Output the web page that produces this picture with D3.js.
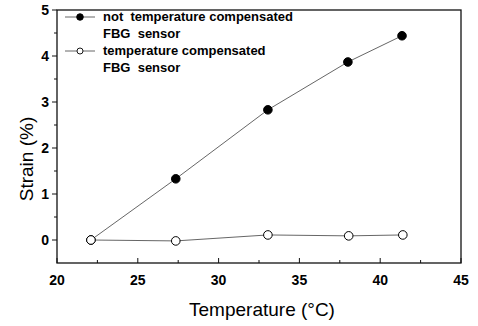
<!DOCTYPE html>
<html>
<head>
<meta charset="utf-8">
<script src="https://cdn.jsdelivr.net/npm/d3@7"></script>
<style>
  body { margin: 0; background: #fff; }
  text { font-family: "Liberation Sans", Arial, sans-serif; }
</style>
</head>
<body>
<div id="chart"></div>
<script>
"use strict";
// temperature (deg C) vs strain (%)
var tempNotComp = [22.1, 27.35, 33.05, 38.0, 41.35];
var strainNotComp = [0, 1.33, 2.83, 3.87, 4.44];
var tempComp = [22.1, 27.35, 33.05, 38.05, 41.4];
var strainComp = [0, -0.02, 0.11, 0.09, 0.11];
var xTicks = [20, 25, 30, 35, 40, 45];
var yTicks = [0, 1, 2, 3, 4, 5];
var legendLabels = [
  ["not  temperature compensated", "FBG  sensor"],
  ["temperature compensated", "FBG  sensor"]
];

var w = 478, h = 326;
var m = { left: 57, right: 17, top: 10, bottom: 63 };

var svg = d3.select("#chart").append("svg")
  .attr("width", w)
  .attr("height", h);

var x = d3.scaleLinear().domain([20, 45]).range([m.left, w - m.right]);
var y = d3.scaleLinear().domain([-0.5, 5]).range([h - m.bottom, m.top]);

var series = [
  { t: tempNotComp, s: strainNotComp, filled: true },
  { t: tempComp, s: strainComp, filled: false }
];

var line = d3.line()
  .x(function(d) { return x(d[0]); })
  .y(function(d) { return y(d[1]); });

// frame
svg.append("rect")
  .attr("x", x(20)).attr("y", y(5))
  .attr("width", x(45) - x(20)).attr("height", y(-0.5) - y(5))
  .attr("fill", "none").attr("stroke", "#111").attr("stroke-width", 1.3);

// x axis, ticks pointing up into the plot
var xAxis = svg.append("g").attr("transform", "translate(0," + y(-0.5) + ")");
xAxis.selectAll(".minor").data(d3.range(22.5, 45, 5)).enter().append("line")
  .attr("x1", function(d) { return x(d); }).attr("x2", function(d) { return x(d); })
  .attr("y1", 0).attr("y2", -3).attr("stroke", "#111");
xAxis.selectAll(".major").data(xTicks).enter().append("line")
  .attr("x1", function(d) { return x(d); }).attr("x2", function(d) { return x(d); })
  .attr("y1", 0).attr("y2", -5).attr("stroke", "#111");
xAxis.selectAll("text").data(xTicks).enter().append("text")
  .attr("x", function(d) { return x(d); })
  .attr("y", 22)
  .attr("text-anchor", "middle")
  .attr("font-size", 14).attr("font-weight", "bold")
  .text(function(d) { return d; });

// y axis, ticks pointing out
var yAxis = svg.append("g").attr("transform", "translate(" + x(20) + ",0)");
yAxis.selectAll(".minor").data(d3.range(0.5, 5, 1)).enter().append("line")
  .attr("y1", function(d) { return y(d); }).attr("y2", function(d) { return y(d); })
  .attr("x1", 0).attr("x2", -3).attr("stroke", "#111");
yAxis.selectAll(".major").data(yTicks).enter().append("line")
  .attr("y1", function(d) { return y(d); }).attr("y2", function(d) { return y(d); })
  .attr("x1", 0).attr("x2", -5).attr("stroke", "#111");
yAxis.selectAll("text").data(yTicks).enter().append("text")
  .attr("x", -8)
  .attr("y", function(d) { return y(d); })
  .attr("dy", "0.35em")
  .attr("text-anchor", "end")
  .attr("font-size", 14).attr("font-weight", "bold")
  .text(function(d) { return d; });

// axis titles
svg.append("text")
  .attr("x", 262).attr("y", 316)
  .attr("text-anchor", "middle")
  .attr("font-size", 19)
  .text("Temperature (\u00B0C)");

svg.append("text")
  .attr("transform", "translate(33,159) rotate(-90)")
  .attr("text-anchor", "middle")
  .attr("font-size", 19)
  .text("Strain (%)");

// series: lines then markers, filled first so open circle sits on top
series.forEach(function(sr) {
  var pts = sr.t.map(function(t, i) { return [t, sr.s[i]]; });
  svg.append("path")
    .datum(pts)
    .attr("d", line)
    .attr("fill", "none")
    .attr("stroke", "#555")
    .attr("stroke-width", 0.9);
  svg.append("g").selectAll("circle").data(pts).enter().append("circle")
    .attr("cx", function(d) { return x(d[0]); })
    .attr("cy", function(d) { return y(d[1]); })
    .attr("r", 4.3)
    .attr("fill", sr.filled ? "#000" : "#fff")
    .attr("stroke", "#000")
    .attr("stroke-width", 1);
});

// legend
var legend = svg.append("g");
legendLabels.forEach(function(lines, i) {
  var ly = 17 + i * 34;
  legend.append("line")
    .attr("x1", 65).attr("x2", 95).attr("y1", ly).attr("y2", ly)
    .attr("stroke", "#555").attr("stroke-width", 0.9);
  legend.append("circle")
    .attr("cx", 80).attr("cy", ly).attr("r", i === 0 ? 3.3 : 3)
    .attr("fill", i === 0 ? "#000" : "#fff")
    .attr("stroke", "#000").attr("stroke-width", 0.9);
  lines.forEach(function(t, j) {
    legend.append("text")
      .attr("x", 103).attr("y", ly + 4 + j * 17)
      .attr("font-size", 13).attr("font-weight", "bold")
      .style("white-space", "pre")
      .text(t);
  });
});
</script>
</body>
</html>
